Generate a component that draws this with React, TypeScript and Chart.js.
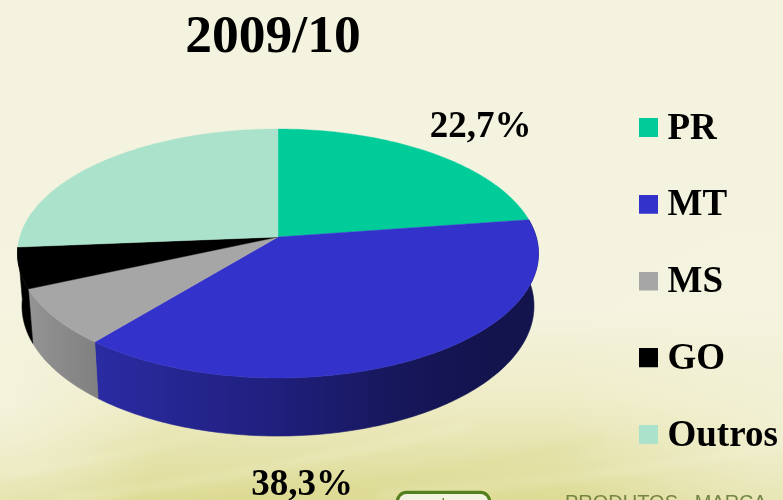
import { useEffect, useRef } from "react";
import { Chart, registerables } from "chart.js";

Chart.register(...registerables);

const categories = ["PR", "MT", "MS", "GO", "Outros"];
const shares = [22.7, 38.3, 7.4, 5.3, 26.3];
const sliceColors = ["#00CC99", "#3333CC", "#A6A6A6", "#000000", "#AAE2CB"];
const chartTitle = "2009/10";
const shownLabels = ["22,7%", "38,3%"];

const SERIF = '"Liberation Serif"';

// perspective ellipse of the top face and of the bottom rim
const TOP = { cx: 278, cy: 237, a: 258.2, b: 122.3, k: 0.1325 };
const LOW = { cx: 278, cy: 289, a: 253.8, b: 127.8, k: 0.1308 };

type Rim = typeof TOP;
const project = (r: Rim, angle: number) => {
  const t = angle + Math.PI / 2;
  const u = Math.sin(t);
  const v = -Math.cos(t);
  const d = 1 - r.k * v;
  return { x: r.cx + (r.a * u) / d, y: r.cy + (r.b * v) / d };
};

const wallFill = (ctx: CanvasRenderingContext2D, index: number) => {
  const g = ctx.createLinearGradient(20, 0, 540, 0);
  if (index === 1) {
    g.addColorStop(0.14, "#2B2BA3");
    g.addColorStop(0.5, "#1F1F7C");
    g.addColorStop(0.72, "#17175C");
    g.addColorStop(0.9, "#13134E");
  } else if (index === 2) {
    g.addColorStop(0, "#969696");
    g.addColorStop(0.15, "#808080");
  } else {
    g.addColorStop(0, "#000000");
    g.addColorStop(1, "#000000");
  }
  return g;
};

const legendSwatch = (color: string) => {
  const c = document.createElement("canvas");
  c.width = 19;
  c.height = 22;
  const x = c.getContext("2d")!;
  x.fillStyle = color;
  x.fillRect(0, 0, 19, 19);
  return c;
};

const sceneryPlugin = {
  id: "scenery",
  beforeDraw(chart: any) {
    const ctx: CanvasRenderingContext2D = chart.ctx;
    const W = chart.width;
    const H = chart.height;
    ctx.save();
    const base = ctx.createLinearGradient(0, 0, 0, H);
    base.addColorStop(0, "#F4F3DF");
    base.addColorStop(0.62, "#F4F3DF");
    base.addColorStop(0.8, "#EEECC6");
    base.addColorStop(1, "#DDDB94");
    ctx.fillStyle = base;
    ctx.fillRect(0, 0, W, H);

    const left = ctx.createRadialGradient(0, 400, 10, 0, 400, 170);
    left.addColorStop(0, "rgba(245,244,224,0.8)");
    left.addColorStop(1, "rgba(245,244,224,0)");
    ctx.fillStyle = left;
    ctx.fillRect(0, 230, W, 270);
    const right = ctx.createRadialGradient(783, 430, 10, 783, 430, 230);
    right.addColorStop(0, "rgba(245,244,224,0.6)");
    right.addColorStop(1, "rgba(245,244,224,0)");
    ctx.fillStyle = right;
    ctx.fillRect(0, 230, W, 270);

    // soft diagonal streaks
    ctx.filter = "blur(4px)";
    ctx.lineWidth = 7;
    ctx.lineCap = "round";
    for (const [x0, y0, x1, y1, c] of [
      [0, 475, 330, 400, "rgba(255,255,235,0.22)"],
      [60, 500, 470, 425, "rgba(255,255,235,0.22)"],
      [200, 505, 600, 440, "rgba(214,212,130,0.18)"],
      [380, 495, 783, 445, "rgba(255,255,235,0.2)"],
      [100, 450, 400, 400, "rgba(224,222,150,0.15)"],
    ] as [number, number, number, number, string][]) {
      ctx.strokeStyle = c;
      ctx.beginPath();
      ctx.moveTo(x0, y0);
      ctx.quadraticCurveTo((x0 + x1) / 2, (y0 + y1) / 2 + 12, x1, y1);
      ctx.stroke();
    }
    ctx.filter = "none";

    // cropped footer of the slide
    ctx.strokeStyle = "#55801F";
    ctx.lineWidth = 3.5;
    ctx.beginPath();
    ctx.roundRect(397.5, 492.5, 92, 30, 9);
    ctx.stroke();
    ctx.fillStyle = "#F3F3E2";
    ctx.beginPath();
    ctx.roundRect(399, 494, 89, 20, 8);
    ctx.fill();
    ctx.fillStyle = "#6F8A3C";
    ctx.fillRect(442.5, 498, 1.5, 2);
    ctx.fillStyle = "#748546";
    ctx.font = "20px 'Liberation Sans'";
    ctx.textAlign = "left";
    ctx.textBaseline = "alphabetic";
    ctx.fillText("PRODUTOS   MARCA", 565, 509);
    ctx.restore();

    // place title and legend where the slide has them
    const title = chart.titleBlock;
    title.left = 0;
    title.right = 546;
    title.top = 17;
    const legend = chart.legend;
    legend.left = 608.25;
    legend.top = 70.75;
  },
};

const pie3dPlugin = {
  id: "pie3d",
  beforeDatasetDraw(chart: any, args: any) {
    const ctx: CanvasRenderingContext2D = chart.ctx;
    const arcs = chart.getDatasetMeta(args.index).data;
    const STEP = Math.PI / 180;
    ctx.save();
    // walls: only the front of the drum can be seen
    arcs.forEach((arc: any, i: number) => {
      if (i === 0 || i === arcs.length - 1) return;
      const startAngle = arc.startAngle;
      const endAngle = arc.endAngle;
      const top: { x: number; y: number }[] = [];
      const low: { x: number; y: number }[] = [];
      for (let a = startAngle; ; a += STEP) {
        const angle = Math.min(a, endAngle);
        top.push(project(TOP, angle));
        low.push(project(LOW, angle));
        if (a >= endAngle) break;
      }
      ctx.beginPath();
      top.forEach((p, n) => (n ? ctx.lineTo(p.x, p.y) : ctx.moveTo(p.x, p.y)));
      low.reverse().forEach((p) => ctx.lineTo(p.x, p.y));
      ctx.closePath();
      const fill = wallFill(ctx, i);
      ctx.fillStyle = fill;
      ctx.strokeStyle = fill;
      ctx.lineWidth = 0.6;
      ctx.fill();
      ctx.stroke();
    });
    // top face
    const centre = { x: TOP.cx, y: TOP.cy };
    arcs.forEach((arc: any, i: number) => {
      ctx.beginPath();
      ctx.moveTo(centre.x, centre.y);
      for (let a = arc.startAngle; ; a += STEP) {
        const p = project(TOP, Math.min(a, arc.endAngle));
        ctx.lineTo(p.x, p.y);
        if (a >= arc.endAngle) break;
      }
      ctx.closePath();
      ctx.fillStyle = sliceColors[i];
      ctx.strokeStyle = sliceColors[i];
      ctx.lineWidth = 0.4;
      ctx.fill();
      ctx.stroke();
    });
    ctx.restore();
    return false;
  },
  afterDatasetsDraw(chart: any) {
    const ctx: CanvasRenderingContext2D = chart.ctx;
    ctx.save();
    ctx.fillStyle = "#000";
    ctx.font = `bold 37px ${SERIF}`;
    ctx.textAlign = "center";
    ctx.textBaseline = "alphabetic";
    ctx.fillText(shownLabels[0], 480.5, 137);
    ctx.fillText(shownLabels[1], 302, 495);
    ctx.restore();
  },
};

export default function App() {
  const ref = useRef<HTMLCanvasElement>(null);
  useEffect(() => {
    document.body.style.margin = "0";
    const baseLabels = (Chart as any).overrides.doughnut.plugins.legend.labels.generateLabels;
    const chart = new Chart(ref.current!, {
      type: "pie",
      data: {
        labels: categories,
        datasets: [{ data: shares, backgroundColor: sliceColors, borderWidth: 0 }],
      },
      plugins: [sceneryPlugin, pie3dPlugin],
      options: {
        responsive: false,
        animation: false,
        layout: { padding: 0 },
        plugins: {
          tooltip: { enabled: false },
          title: {
            display: true,
            text: chartTitle,
            color: "#000",
            padding: 0,
            font: { family: SERIF, size: 53.5, weight: "bold", lineHeight: 0.8 },
          },
          legend: {
            position: "right",
            align: "start",
            labels: {
              color: "#000",
              font: { family: SERIF, size: 37, weight: "bold", lineHeight: 1.2 },
              usePointStyle: true,
              boxWidth: 1,
              boxHeight: 20,
              padding: 39.75,
              generateLabels: (c: any) =>
                baseLabels(c).map((item: any, i: number) => ({
                  ...item,
                  pointStyle: legendSwatch(sliceColors[i]),
                })),
            },
          },
        },
      },
    } as any);
    return () => chart.destroy();
  }, []);
  return <canvas ref={ref} width={783} height={500} style={{ display: "block" }} />;
}
